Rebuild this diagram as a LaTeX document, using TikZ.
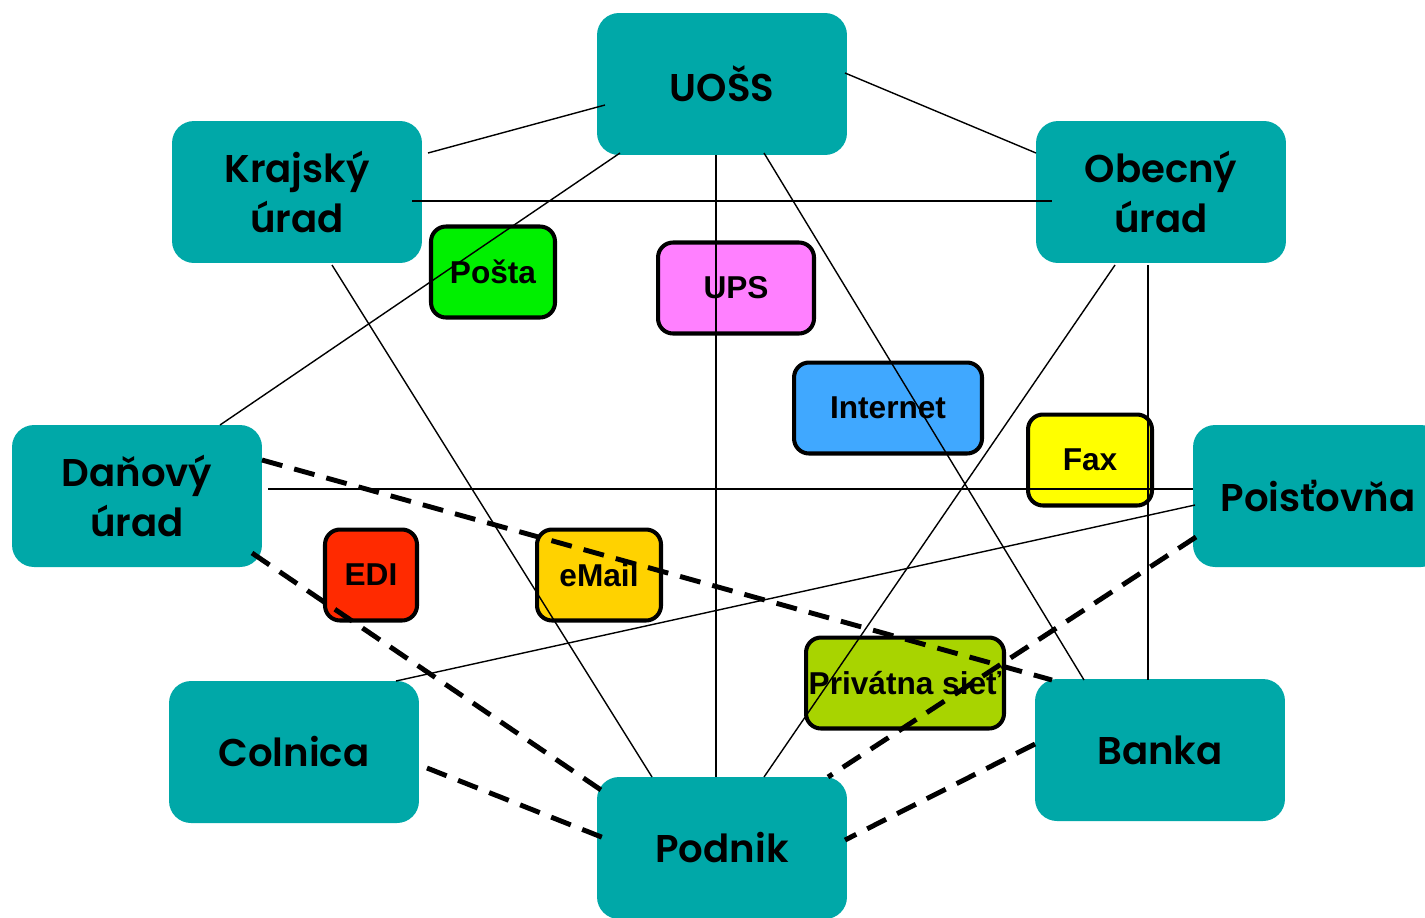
\documentclass[tikz,border=0pt]{standalone}
\usepackage{fontspec}
\setmainfont{Liberation Sans}
\newfontfamily\gothic{Poppins}[BoldFont={* SemiBold}]
\usetikzlibrary{calc}
\definecolor{officeteal}{HTML}{00A8A8}
\definecolor{postagreen}{HTML}{00F000}
\definecolor{upspink}{HTML}{FF80FF}
\definecolor{netblue}{HTML}{40A8FF}
\definecolor{faxyellow}{HTML}{FFFF00}
\definecolor{edired}{HTML}{FF2A00}
\definecolor{mailgold}{HTML}{FFD200}
\definecolor{sietlime}{HTML}{A8D400}
\tikzset{
  office/.style={fill=officeteal, rounded corners=0.44cm, minimum width=5cm, minimum height=2.84cm,
    align=center, inner sep=0pt, font=\gothic\bfseries\fontsize{22}{28}\selectfont},
  medium/.style={draw=black, line width=2.3pt, rounded corners=0.3cm, minimum height=1.82cm,
    inner sep=0pt, font=\bfseries\fontsize{18}{20}\selectfont},
  link/.style={line width=0.8pt},
  dlink/.style={line width=2.8pt, dash pattern=on 12pt off 7pt},
}
\begin{document}
\begin{tikzpicture}[x=0.02cm,y=-0.02cm]
\useasboundingbox (0,0) rectangle (1425,917);
% offices
\node[office] (uoss) at (722,84) {UOŠS};
\node[office] (kraj) at (297,192) {Krajský\\úrad};
\node[office] (obec) at (1161,192) {Obecný\\úrad};
\node[office] (dan) at (137,496) {Daňový\\úrad};
\node[office] (pois) at (1318,496) {Poisťovňa};
\node[office] (coln) at (294,752) {Colnica};
\node[office] (banka) at (1160,750) {Banka};
\node[office] (podnik) at (722,848) {Podnik};
% media
\node[medium, fill=postagreen, minimum width=2.48cm] (posta) at (493,272) {Pošta};
\node[medium, fill=upspink, minimum width=3.12cm] (ups) at (736,288) {UPS};
\node[medium, fill=netblue, minimum width=3.76cm] (net) at (888,408) {Internet};
\node[medium, fill=faxyellow, minimum width=2.48cm] (fax) at (1090,460) {Fax};
\node[medium, fill=edired, minimum width=1.84cm] (edi) at (371,575) {EDI};
\node[medium, fill=mailgold, minimum width=2.48cm] (mail) at (599,575) {eMail};
\node[medium, fill=sietlime, minimum width=3.96cm] (siet) at (905,683) {Privátna sieť};
% links
\draw[link] ($(uoss)+(-117,21)$) -- ($(kraj)+(131,-39)$);
\draw[link] ($(uoss)+(123,-11)$) -- ($(obec)+(-125,-39)$);
\draw[link] ($(kraj)+(115,9)$) -- ($(obec)+(-109,9)$);
\draw[link] ($(uoss)+(-102,69)$) -- ($(dan)+(83,-71)$);
\draw[link] ($(uoss)+(-6,71)$) -- ($(podnik)+(-6,-71)$);
\draw[link] ($(uoss)+(42,69)$) -- ($(banka)+(-76,-70)$);
\draw[link] ($(kraj)+(35,73)$) -- ($(podnik)+(-70,-71)$);
\draw[link] ($(obec)+(-46,73)$) -- ($(podnik)+(42,-71)$);
\draw[link] ($(obec)+(-13,73)$) -- ($(banka)+(-12,-70)$);
\draw[link] ($(dan)+(131,-7)$) -- ($(pois)+(-125,-7)$);
\draw[link] ($(pois)+(-123,9)$) -- ($(coln)+(102,-71)$);
%
\draw[dlink] ($(dan)+(125,-36)$) -- ($(banka)+(-108,-70)$);
\draw[dlink] ($(dan)+(115,57)$) -- ($(podnik)+(-118,-56)$);
\draw[dlink] ($(coln)+(133,16)$) -- ($(podnik)+(-118,-10)$);
\draw[dlink] ($(pois)+(-122,41)$) -- ($(podnik)+(106,-71)$);
\draw[dlink] ($(banka)+(-125,-6)$) -- ($(podnik)+(123,-8)$);
\end{tikzpicture}
\end{document}
